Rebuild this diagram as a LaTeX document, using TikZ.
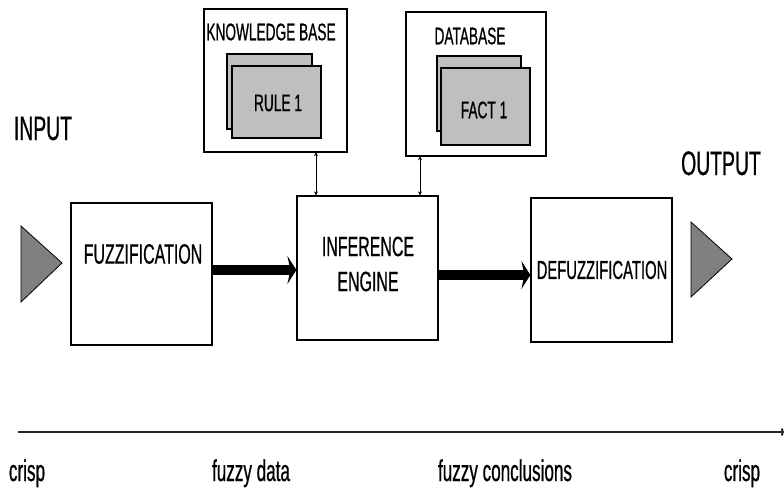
\documentclass[tikz,border=0pt]{standalone}
\usepackage{fontspec}
\newfontfamily\narrowsans[FakeStretch=0.57, FakeBold=0.6]{Liberation Sans}
\usetikzlibrary{arrows.meta}
\tikzset{
  x=1pt, y=-1pt,
  every node/.style={inner sep=0pt},
  txt/.style={font=\narrowsans\fontsize{#1}{35}\selectfont},
  block/.style={draw=black, line width=1.2pt, fill=white},
  card/.style={draw=black, line width=1.1pt, fill=black!25},
  flow/.style={line width=10pt, -{Stealth[length=9pt, width=28pt, inset=3pt]}},
  link/.style={line width=0.8pt, {Stealth[length=4pt, width=4pt]}-{Stealth[length=4pt, width=4pt]}},
  port/.style={draw=black, line width=0.8pt, fill=black!50},
}
\begin{document}
\begin{tikzpicture}
\useasboundingbox (0,0) rectangle (784,488);

% knowledge base with its rule cards
\draw[block] (204,9) rectangle (347,152);
\node (kb) at (275.5,80.5) [minimum width=143pt, minimum height=143pt] {};
\node[txt=24] at (271,32) {KNOWLEDGE BASE};
\draw[card] (227,54) rectangle (312,129);
\draw[card] (232,66) rectangle (321,138);
\node[txt=24] at (278,103) {RULE 1};

% database with its fact cards
\draw[block] (406,12) rectangle (546,156);
\node (db) at (476,84) [minimum width=140pt, minimum height=144pt] {};
\node[txt=24] at (470,36) {DATABASE};
\draw[card] (437,56) rectangle (521,131);
\draw[card] (441,68) rectangle (530,145);
\node[txt=24] at (484,110) {FACT 1};

% processing stages
\node[block, minimum width=141pt, minimum height=142pt] (fuzz) at (141.5,274) {};
\node[txt=28] at (143,254) {FUZZIFICATION};

\node[block, minimum width=141pt, minimum height=144pt] (infer) at (367.5,268) {};
\node[txt=28, align=center] at (368,264) {INFERENCE\\ENGINE};

\node[block, minimum width=141pt, minimum height=144pt] (defuzz) at (601.5,270) {};
\node[txt=26] at (602,270) {DEFUZZIFICATION};

% crisp input and output markers
\draw[port] (21,226) -- (62,263) -- (21,302) -- cycle;
\draw[port] (691,222) -- (732,259) -- (691,297) -- cycle;
\node[txt=34, anchor=base] at (43,140) {INPUT};
\node[txt=34, anchor=base] at (721,175) {OUTPUT};

% data flow between stages
\draw[flow] (fuzz.east |- 0,270) -- (infer.west |- 0,270);
\draw[flow] (infer.east |- 0,275) -- (defuzz.west |- 0,275);

% rule and fact exchange with the engine
\draw[link] (kb.south -| 316,0) -- (infer.north -| 316,0);
\draw[link] (db.south -| 420,0) -- (infer.north -| 420,0);

% stage axis
\coordinate (axisL) at (18,432);
\coordinate (axisR) at (784,432);
\draw[line width=2pt, black!85, -{To[length=3pt, width=8pt]}] (axisL) -- (axisR);
\node[txt=30, anchor=base] at (27,481) {crisp};
\node[txt=30, anchor=base] at (251,481) {fuzzy data};
\node[txt=30, anchor=base] at (505,481) {fuzzy conclusions};
\node[txt=30, anchor=base] at (742,481) {crisp};
\end{tikzpicture}
\end{document}
